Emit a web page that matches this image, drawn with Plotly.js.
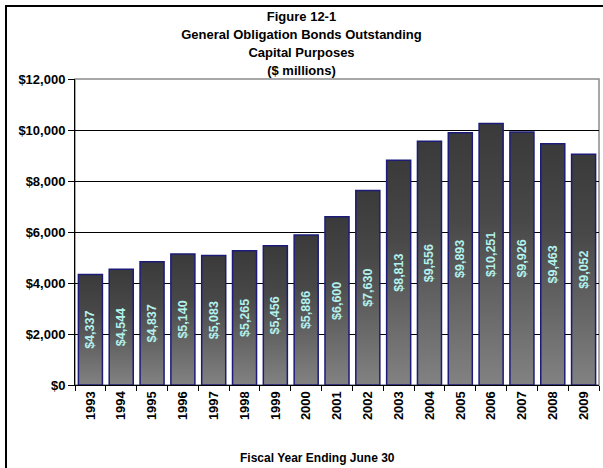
<!DOCTYPE html>
<html>
<head>
<meta charset="utf-8">
<script src="https://cdn.plot.ly/plotly-3.0.1.min.js"></script>
<style>
  html, body { margin: 0; padding: 0; width: 603px; height: 468px; overflow: hidden; background: #fff; }
  #chart { position: absolute; left: 0; top: 0; width: 603px; height: 468px; }
  #frame { position: absolute; left: 5px; top: 5px; width: 700px; height: 700px; border: 2px solid #000; box-sizing: border-box; pointer-events: none; }
</style>
</head>
<body>
<div id="chart"></div>
<div id="frame"></div>
<script>
const years = ['1993','1994','1995','1996','1997','1998','1999','2000','2001','2002','2003','2004','2005','2006','2007','2008','2009'];
const bonds = [4337, 4544, 4837, 5140, 5083, 5265, 5456, 5886, 6600, 7630, 8813, 9556, 9893, 10251, 9926, 9463, 9052];
const yTicks = [0, 2000, 4000, 6000, 8000, 10000, 12000];
const yTickText = ['$0', '$2,000', '$4,000', '$6,000', '$8,000', '$10,000', '$12,000'];
const titleLines = ['Figure 12-1', 'General Obligation Bonds Outstanding', 'Capital Purposes', '($ millions)'];
const xTitle = 'Fiscal Year Ending June 30';

const FONT = '"Liberation Sans", Arial, sans-serif';

const trace = {
  type: 'bar',
  x: years,
  y: bonds,
  marker: { color: '#5a5a5a', line: { color: '#1c1c78', width: 1.5 } },
  width: 0.78,
  texttemplate: '$%{y:,}',
  textposition: 'inside',
  insidetextanchor: 'middle',
  textangle: -90,
  constraintext: 'none',
  textfont: { family: FONT, size: 12.5, color: '#b2f2ee', weight: 'bold' },
  hoverinfo: 'skip'
};

const layout = {
  width: 603, height: 468,
  margin: { l: 75, r: 4, t: 79, b: 83 },
  paper_bgcolor: '#fff', plot_bgcolor: '#fff',
  font: { family: FONT, size: 13, color: '#000', weight: 'bold' },
  showlegend: false,
  title: {
    text: titleLines.map(function (t) { return '<span style="font-size:13px">' + t + '</span>'; }).join('<br>'),
    x: 0.5, xref: 'container', xanchor: 'center',
    y: 0.955, yref: 'container', yanchor: 'top',
    font: { family: FONT, size: 13.8, color: '#000', weight: 'bold' }
  },
  xaxis: {
    type: 'category',
    tickson: 'boundaries',
    ticks: 'outside', ticklen: 5, tickcolor: '#000', tickwidth: 1,
    tickangle: -90,
    tickfont: { family: FONT, size: 13, color: '#000', weight: 'bold' },
    showline: true, linecolor: '#000', linewidth: 1,
    showgrid: false
  },
  yaxis: {
    range: [0, 12000],
    tickmode: 'array',
    tickvals: yTicks,
    ticktext: yTickText,
    ticks: 'outside', ticklen: 6, tickcolor: '#000', tickwidth: 1,
    tickfont: { family: FONT, size: 13, color: '#000', weight: 'bold' },
    showline: true, linecolor: '#000', linewidth: 1,
    showgrid: true, gridcolor: '#000', gridwidth: 1,
    zeroline: false
  },
  annotations: [{
    text: xTitle, xref: 'paper', yref: 'paper',
    x: 0.462, y: -0.238, xanchor: 'center', yanchor: 'middle',
    showarrow: false,
    font: { family: FONT, size: 12, color: '#000', weight: 'bold' }
  }],
  shapes: [{
    type: 'rect', xref: 'paper', yref: 'paper', x0: 0, x1: 1, y0: 0, y1: 1,
    line: { color: '#8a8a8a', width: 1.5 }, layer: 'below'
  }]
};

Plotly.newPlot('chart', [trace], layout, { displayModeBar: false, staticPlot: true }).then(function (gd) {
  const svgNS = 'http://www.w3.org/2000/svg';
  const svg = gd.querySelector('.main-svg');
  let defs = svg.querySelector('defs');
  if (!defs) { defs = document.createElementNS(svgNS, 'defs'); svg.insertBefore(defs, svg.firstChild); }
  const grad = document.createElementNS(svgNS, 'linearGradient');
  grad.setAttribute('id', 'barGrad');
  grad.setAttribute('x1', '0'); grad.setAttribute('y1', '0');
  grad.setAttribute('x2', '0'); grad.setAttribute('y2', '1');
  [['0', '#3a3a3a'], ['0.35', '#484848'], ['1', '#828282']].forEach(function (s) {
    const st = document.createElementNS(svgNS, 'stop');
    st.setAttribute('offset', s[0]);
    st.setAttribute('stop-color', s[1]);
    grad.appendChild(st);
  });
  defs.appendChild(grad);
  gd.querySelectorAll('.bars .point path').forEach(function (p) {
    p.style.fill = 'url(#barGrad)';
  });
});
</script>
</body>
</html>
